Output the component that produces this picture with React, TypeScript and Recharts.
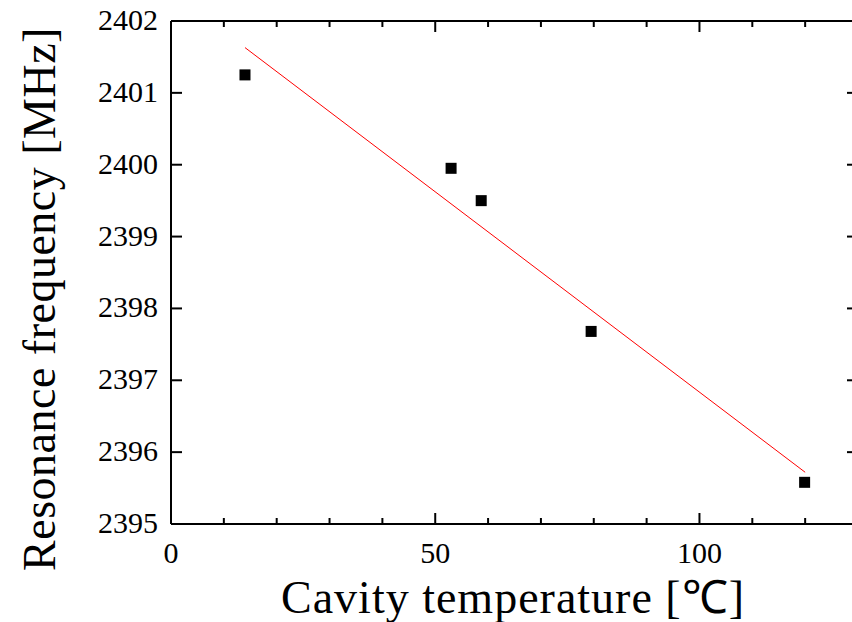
import React from "react";
import { ComposedChart, Scatter, XAxis, YAxis } from "recharts";

// Measured data points (temperature °C, resonance frequency MHz)
const temperatures = [14, 53, 58.7, 79.5, 119.9];
const frequencies = [2401.25, 2399.95, 2399.5, 2397.68, 2395.58];

// Linear fit endpoints
const fitTemperatures = [14, 120];
const fitFrequencies = [2401.63, 2395.72];

const xTicks = [0, 10, 20, 30, 40, 50, 60, 70, 80, 90, 100, 110, 120, 130];
const xMajor = [0, 50, 100];
const yTicks = [2395, 2396, 2397, 2398, 2399, 2400, 2401, 2402];

const points = temperatures.map((t, i) => ({ x: t, y: frequencies[i] }));
const fit = fitTemperatures.map((t, i) => ({ x: t, y: fitFrequencies[i] }));

const FONT = "Liberation Serif";

const BottomTick = (props: any) => {
  const { x, y, payload } = props;
  const major = xMajor.includes(payload.value);
  return (
    <g>
      <line x1={x} y1={y} x2={x} y2={y - (major ? 11 : 6)} stroke="#000" strokeWidth={2} />
      {major && (
        <text x={x} y={y + 39} textAnchor="middle" style={{ fontFamily: FONT, fontSize: 30 }} fill="#000">
          {payload.value}
        </text>
      )}
    </g>
  );
};

const TopTick = (props: any) => {
  const { x, y, payload } = props;
  const major = xMajor.includes(payload.value);
  return <line x1={x} y1={y} x2={x} y2={y + (major ? 11 : 6)} stroke="#000" strokeWidth={2} />;
};

const LeftTick = (props: any) => {
  const { x, y, payload } = props;
  return (
    <g>
      <line x1={x} y1={y} x2={x + 11} y2={y} stroke="#000" strokeWidth={2} />
      <text x={x - 13} y={y + 9} textAnchor="end" style={{ fontFamily: FONT, fontSize: 30 }} fill="#000">
        {payload.value}
      </text>
    </g>
  );
};

const RightTick = (props: any) => {
  const { x, y } = props;
  return <line x1={x} y1={y} x2={x - 11} y2={y} stroke="#000" strokeWidth={2} />;
};

const SquareShape = (props: any) => {
  const { cx, cy } = props;
  if (cx == null || cy == null) return null;
  return <rect x={cx - 5.5} y={cy - 5.5} width={11} height={11} fill="#000" />;
};

const NoShape = () => null;

export default function App() {
  return (
    <div style={{ position: "absolute", left: 0, top: 0, width: 852, height: 622, overflow: "hidden", background: "#fff" }}>
      <ComposedChart width={861} height={622} margin={{ top: 0, right: 0, bottom: 0, left: 0 }}>
        <XAxis
          xAxisId="bottom"
          type="number"
          dataKey="x"
          domain={[0, 130]}
          ticks={xTicks}
          interval={0}
          orientation="bottom"
          height={98}
          tickSize={0}
          tickMargin={0}
          tickLine={false}
          axisLine={{ stroke: "#000", strokeWidth: 2 }}
          tick={<BottomTick />}
          allowDataOverflow
        />
        <XAxis
          xAxisId="top"
          type="number"
          dataKey="x"
          domain={[0, 130]}
          ticks={xTicks}
          interval={0}
          orientation="top"
          height={21}
          tickSize={0}
          tickMargin={0}
          tickLine={false}
          axisLine={{ stroke: "#000", strokeWidth: 2 }}
          tick={<TopTick />}
          allowDataOverflow
        />
        <YAxis
          yAxisId="left"
          type="number"
          dataKey="y"
          domain={[2395, 2402]}
          ticks={yTicks}
          interval={0}
          orientation="left"
          width={171}
          tickSize={0}
          tickMargin={0}
          tickLine={false}
          axisLine={{ stroke: "#000", strokeWidth: 2 }}
          tick={<LeftTick />}
          allowDataOverflow
        />
        <YAxis
          yAxisId="right"
          type="number"
          dataKey="y"
          domain={[2395, 2402]}
          ticks={yTicks}
          interval={0}
          orientation="right"
          width={3}
          tickSize={0}
          tickMargin={0}
          tickLine={false}
          axisLine={{ stroke: "#000", strokeWidth: 2 }}
          tick={<RightTick />}
          allowDataOverflow
        />
        <Scatter
          xAxisId="bottom"
          yAxisId="left"
          data={fit}
          line={{ stroke: "#ff0000", strokeWidth: 1 }}
          shape={<NoShape />}
          isAnimationActive={false}
        />
        <Scatter
          xAxisId="bottom"
          yAxisId="left"
          data={points}
          shape={<SquareShape />}
          isAnimationActive={false}
        />
        <Scatter xAxisId="top" yAxisId="right" data={points} shape={<NoShape />} isAnimationActive={false} />
      </ComposedChart>
      <svg width={852} height={622} style={{ position: "absolute", left: 0, top: 0, pointerEvents: "none" }}>
        <text
          x={55}
          y={299}
          transform="rotate(-90 55 299)"
          textAnchor="middle"
          style={{ fontFamily: FONT, fontSize: 46, letterSpacing: 0.5 }}
          fill="#000"
        >
          Resonance frequency [MHz]
        </text>
        <text
          x={513}
          y={613}
          textAnchor="middle"
          style={{ fontFamily: FONT, fontSize: 46, letterSpacing: 1 }}
          fill="#000"
        >
          Cavity temperature [℃]
        </text>
      </svg>
    </div>
  );
}
